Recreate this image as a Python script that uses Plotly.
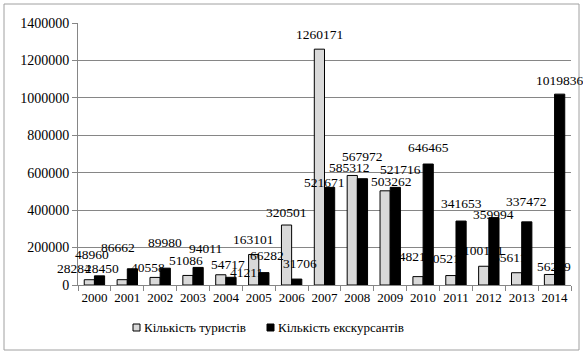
import plotly.graph_objects as go

years = [str(y) for y in range(2000, 2015)]
tourists = [28284, 28450, 40558, 51086, 54717, 163101, 320501, 1260171,
            585312, 503262, 44821, 50521, 100131, 65611, 56219]
excursionists = [48960, 86662, 89980, 94011, 41211, 66282, 31706, 521671,
                 567972, 521716, 646465, 341653, 359994, 337472, 1019836]
y_ticks = [0, 200000, 400000, 600000, 800000, 1000000, 1200000, 1400000]
series_names = ["Кількість туристів", "Кількість екскурсантів"]
series_colors = ["#d9d9d9", "#000000"]

W, H = 583, 355
ML, MR, MT, MB = 78, 12, 23, 70
FONT = "Times New Roman, Liberation Serif, serif"
BARGAP = 0.38
LABEL_LIFT = 13  # px from bar top to label centre

# per-label (dx, dy) pixel nudges that keep crowded value labels readable
label_nudge = [
    {0: (-15, -2), 1: (-20, -2), 2: (-7, -3), 3: (-2, 2), 4: (7, -3),
     5: (0, 2), 7: (0, 2), 8: (-3, -5), 9: (6, -4), 10: (-9, 7),
     11: (-8, 4), 12: (0, 3), 13: (-7, 2), 14: (5, -5)},
    {0: (-8, 8), 1: (-14, 8), 2: (0, 13), 3: (7, 6), 4: (16, -8),
     5: (3, 4), 6: (3, 3), 7: (-5, -8), 8: (0, 9), 9: (5, 5), 10: (0, 4),
     11: (0, 5), 12: (0, -10), 13: (0, 7), 14: (0, 1)},
]

pw = W - ML - MR
ph = H - MT - MB
cat_px = pw / len(years)
bar_px = cat_px * (1 - BARGAP) / 2

fig = go.Figure()
for i, (name, vals, col) in enumerate(zip(series_names,
                                          [tourists, excursionists],
                                          series_colors)):
    fig.add_trace(go.Bar(
        x=years, y=vals, name=name,
        marker=dict(color=col, line=dict(color="#000000", width=1)),
        showlegend=False,
    ))
    # value labels above each bar (category axis uses serial index)
    side = -0.5 if i == 0 else 0.5
    for idx, v in enumerate(vals):
        dx, dy = label_nudge[i].get(idx, (0, 0))
        fig.add_annotation(x=idx, y=v, xref="x", yref="y", text=str(v),
                           showarrow=False, xanchor="center",
                           yanchor="middle", xshift=side * bar_px + dx,
                           yshift=LABEL_LIFT + dy,
                           font=dict(family=FONT, size=13.5, color="#000000"))


def px_x(px):
    return (px - ML) / pw


def px_y(py):
    return (H - MB - py) / ph


fig.update_layout(
    width=W, height=H,
    margin=dict(l=ML, r=MR, t=MT, b=MB),
    paper_bgcolor="white", plot_bgcolor="white",
    barmode="group", bargap=BARGAP, bargroupgap=0.0,
    font=dict(family=FONT, size=13, color="#000000"),
    showlegend=False,
    xaxis=dict(type="category", range=[-0.5, len(years) - 0.5],
               showline=True, linecolor="#868686",
               linewidth=1, ticks="outside", ticklen=5, tickcolor="#868686",
               tickson="boundaries", tickangle=0,
               tickfont=dict(family=FONT, size=13),
               showgrid=False),
    yaxis=dict(range=[0, 1400000], tickvals=y_ticks,
               ticktext=[str(v) for v in y_ticks],
               showline=True, linecolor="#868686", linewidth=1,
               ticks="outside", ticklen=5, tickcolor="#868686",
               showgrid=True, gridcolor="#868686", gridwidth=1,
               zeroline=False, tickfont=dict(family=FONT, size=14)),
)

# outer frame around the whole chart
fig.add_shape(type="rect", xref="paper", yref="paper",
              x0=px_x(4), x1=px_x(579), y0=px_y(350), y1=px_y(4),
              line=dict(color="#a0a0a0", width=1), fillcolor="rgba(0,0,0,0)",
              layer="below")

# legend: small square key followed by the series name
legend_left = [133, 267]
for left, name, col in zip(legend_left, series_names, series_colors):
    fig.add_shape(type="rect", xref="paper", yref="paper",
                  x0=px_x(left), x1=px_x(left + 7),
                  y0=px_y(331), y1=px_y(324),
                  line=dict(color="#000000", width=1), fillcolor=col)
    fig.add_annotation(xref="paper", yref="paper", x=px_x(left + 9),
                       y=px_y(327.5), xanchor="left", yanchor="middle",
                       text=name, showarrow=False,
                       font=dict(family=FONT, size=13, color="#000000"))

fig.write_html("out.html")
